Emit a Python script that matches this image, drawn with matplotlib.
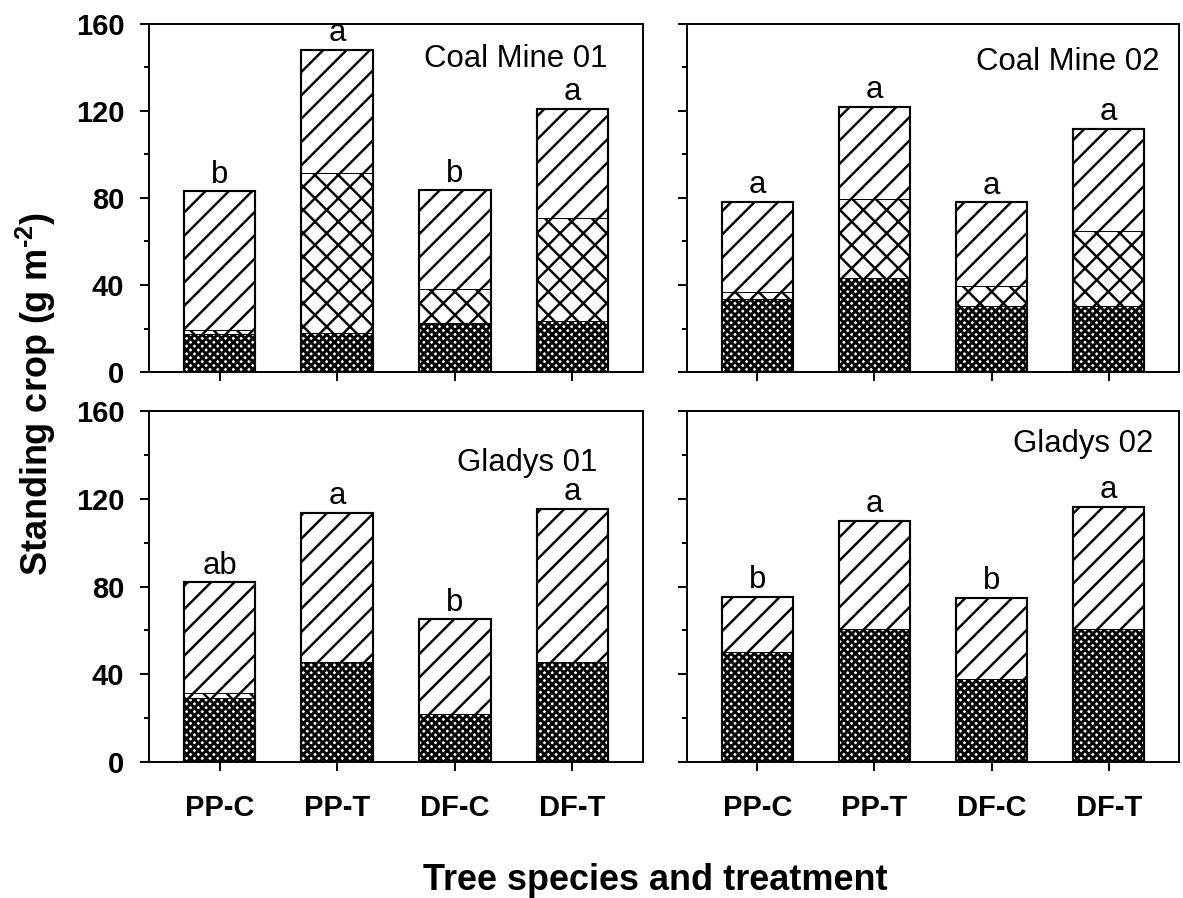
import numpy as np
import matplotlib
matplotlib.use("Agg")
import matplotlib.pyplot as plt

plt.rcParams['font.family'] = ['Liberation Sans', 'DejaVu Sans']
plt.rcParams['mathtext.fontset'] = 'custom'
plt.rcParams['mathtext.rm'] = 'Liberation Sans:bold'
plt.rcParams['mathtext.bf'] = 'Liberation Sans:bold'

# treatments on the x axis
tratamientos = ['PP-C', 'PP-T', 'DF-C', 'DF-T']

# stacked layers (g m-2)
# capa1 = dense crosshatch (bottom), capa2 = crosshatch, capa3 = diagonal (top)
cm01_capa1 = [17.5, 18.0, 22.5, 23.5]
cm01_capa2 = [1.8, 73.5, 15.5, 47.5]
cm01_capa3 = [63.7, 56.5, 45.5, 50.0]
cm01_letras = ['b', 'a', 'b', 'a']

cm02_capa1 = [33.6, 43.4, 30.3, 30.3]
cm02_capa2 = [3.0, 36.0, 9.2, 34.5]
cm02_capa3 = [41.7, 42.6, 38.5, 46.9]
cm02_letras = ['a', 'a', 'a', 'a']

gl01_capa1 = [29.3, 45.5, 22.0, 45.5]
gl01_capa2 = [2.3, 0.0, 0.0, 0.0]
gl01_capa3 = [50.3, 68.0, 43.0, 70.0]
gl01_letras = ['ab', 'a', 'b', 'a']

gl02_capa1 = [50.0, 60.5, 38.0, 60.5]
gl02_capa2 = [0.0, 0.3, 0.0, 0.0]
gl02_capa3 = [25.3, 49.2, 36.9, 55.9]
gl02_letras = ['b', 'a', 'b', 'a']

sitios = ['Coal Mine 01', 'Coal Mine 02', 'Gladys 01', 'Gladys 02']

fig = plt.figure(figsize=(1183/140, 898/140), dpi=140)

# axes boxes in figure fraction [left, bottom, width, height]
cajas = [
    [149/1183, 1-372/898, (643-149)/1183, (372-24)/898],
    [687/1183, 1-372/898, (1179-687)/1183, (372-24)/898],
    [149/1183, 1-762/898, (643-149)/1183, (762-411)/898],
    [687/1183, 1-762/898, (1179-687)/1183, (762-411)/898],
]
# title positions (axes fraction, right aligned, baseline)
pos_titulo = [(1-36/494, 1-(67-24)/348), (1-19/492, 1-(70-24)/348),
              (1-46/494, 1-(471-411)/351), (1-26/492, 1-(452-411)/351)]

datos = [
    (cm01_capa1, cm01_capa2, cm01_capa3, cm01_letras),
    (cm02_capa1, cm02_capa2, cm02_capa3, cm02_letras),
    (gl01_capa1, gl01_capa2, gl01_capa3, gl01_letras),
    (gl02_capa1, gl02_capa2, gl02_capa3, gl02_letras),
]

x = np.arange(1, len(tratamientos)+1)
ancho = 0.61


def barras(ax, base, alto, hatch, hlw):
    plt.rcParams['hatch.linewidth'] = hlw
    bs = ax.bar(x, alto, ancho, bottom=base, color='white', edgecolor='black',
                linewidth=0.5, hatch=hatch, zorder=2)
    for b in bs:
        if hasattr(b, 'set_hatch_linewidth'):
            b.set_hatch_linewidth(hlw)
    return bs


for i, (c1, c2, c3, letras) in enumerate(datos):
    ax = fig.add_axes(cajas[i])
    c1 = np.array(c1)
    c2 = np.array(c2)
    c3 = np.array(c3)
    barras(ax, 0, c1, 'xxxxxx', 1.5)
    barras(ax, c1, c2, 'xx', 1.25)
    barras(ax, c1+c2, c3, '//', 1.25)
    total = c1 + c2 + c3
    # outline
    ax.bar(x, total, ancho, fill=False, edgecolor='black', linewidth=1.1, zorder=3)
    for xi, t, l in zip(x, total, letras):
        ax.annotate(l, (xi, t), xytext=(0, 4.5), textcoords='offset points',
                    ha='center', va='baseline', fontsize=16, annotation_clip=False)
    ax.text(pos_titulo[i][0], pos_titulo[i][1], sitios[i], transform=ax.transAxes,
            ha='right', va='baseline', fontsize=16)

    ax.set_xlim(0.4, 4.6)
    ax.set_ylim(0, 160)
    ax.set_yticks([0, 40, 80, 120, 160])
    ax.set_yticks([20, 60, 100, 140], minor=True)
    ax.set_xticks(x)
    ax.tick_params(axis='both', which='major', direction='out', length=4.6, width=1.0)
    ax.tick_params(axis='y', which='minor', direction='out', length=2.6, width=1.0)
    ax.tick_params(axis='y', labelsize=15, pad=8)
    ax.tick_params(axis='x', labelsize=15, pad=12)
    for s in ax.spines.values():
        s.set_linewidth(1.0)
    if i < 2:
        ax.set_xticklabels([])
    else:
        ax.set_xticklabels(tratamientos, fontweight='bold')
    if i % 2 == 1:
        ax.set_yticklabels([])
    else:
        for t in ax.get_yticklabels():
            t.set_fontweight('bold')

fig.text(36/1183, 0.561, 'Standing crop (g m$^{\\text{-2}}$)', rotation=90,
         ha='center', va='center', fontsize=18.5, fontweight='bold')
fig.text(655/1183, 1-890/898, 'Tree species and treatment', ha='center',
         va='baseline', fontsize=18.5, fontweight='bold')

fig.savefig('out.png', dpi=140)
